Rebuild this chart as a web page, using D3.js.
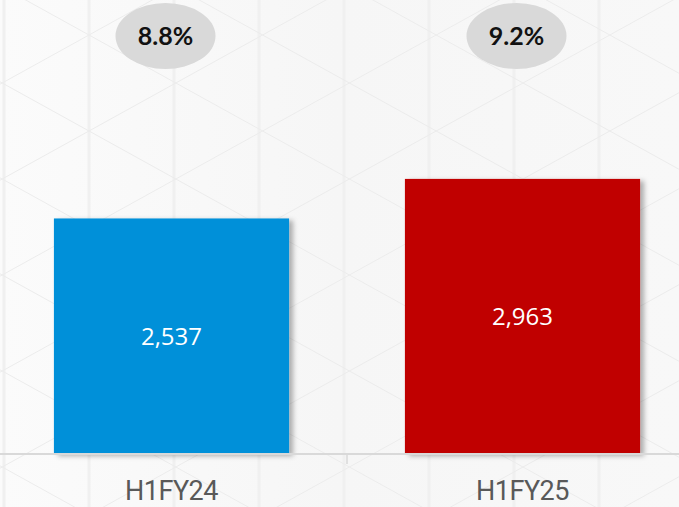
<!DOCTYPE html>
<html>
<head>
<meta charset="utf-8">
<script src="https://cdn.jsdelivr.net/npm/d3@7"></script>
<style>
  body { margin: 0; background: #fff; }
  svg { display: block; }
</style>
</head>
<body>
<div id="chart"></div>
<script>
// data
var categories = ["H1FY24", "H1FY25"];
var values = [2537, 2963];
var growth = ["8.8%", "9.2%"];
var colors = ["#0090d9", "#c00000"];

var tot_width = 679, tot_height = 507;
var baseY = 454;

var svg = d3.select("#chart").append("svg")
    .attr("width", tot_width).attr("height", tot_height);

var defs = svg.append("defs");
var grad = defs.append("linearGradient").attr("id", "bg")
    .attr("x1", "0").attr("y1", "0").attr("x2", "1").attr("y2", "0");
grad.append("stop").attr("offset", "0").attr("stop-color", "#fbfbfb");
grad.append("stop").attr("offset", "0.5").attr("stop-color", "#f6f6f6");
grad.append("stop").attr("offset", "1").attr("stop-color", "#f8f8f8");

var shadow = defs.append("filter").attr("id", "shadow")
    .attr("x", "-10%").attr("y", "-10%").attr("width", "130%").attr("height", "130%");
shadow.append("feDropShadow").attr("dx", 4).attr("dy", 2)
    .attr("stdDeviation", 2.5).attr("flood-color", "#000").attr("flood-opacity", 0.3);

// background with triangle grid
svg.append("rect").attr("width", tot_width).attr("height", tot_height).attr("fill", "url(#bg)");
var bgLines = svg.append("g").attr("stroke", "#ececec").attr("stroke-width", 1).attr("fill", "none");
var dx = 85, dy = 96, slope = 0.553;
for (var k = -1; k < 9; k++) {
  var vx = 4 + dx * k;
  bgLines.append("line").attr("x1", vx).attr("x2", vx).attr("y1", 0).attr("y2", tot_height)
      .attr("stroke", "#f0f0f0").attr("stroke-width", 3);
}
for (var j = -12; j < 12; j++) {
  var y0 = 35 + dy * j - slope * 89;
  bgLines.append("line").attr("x1", 0).attr("y1", y0).attr("x2", tot_width).attr("y2", y0 + slope * tot_width);
  var y1 = 35 + dy * j + slope * 89;
  bgLines.append("line").attr("x1", 0).attr("y1", y1).attr("x2", tot_width).attr("y2", y1 - slope * tot_width);
}

// scales
var x = d3.scaleBand().domain(categories).range([-4, 698])
    .paddingInner(0.33).paddingOuter(0.165);
var y = d3.scaleLinear().domain([0, 4890]).range([baseY, 0]);

// bars
svg.selectAll("rect.bar")
  .data(values)
  .enter().append("rect")
    .attr("class", "bar")
    .attr("x", function(d, i) { return x(categories[i]); })
    .attr("width", x.bandwidth())
    .attr("y", function(d) { return y(d); })
    .attr("height", function(d) { return baseY - y(d); })
    .attr("fill", function(d, i) { return colors[i]; })
    .attr("filter", "url(#shadow)");

// value labels
svg.selectAll("text.val")
  .data(values)
  .enter().append("text")
    .attr("class", "val")
    .attr("x", function(d, i) { return x(categories[i]) + x.bandwidth() / 2; })
    .attr("y", function(d) { return (y(d) + baseY) / 2 + 9; })
    .attr("text-anchor", "middle")
    .attr("fill", "#fff")
    .style("font-family", "'Open Sans', sans-serif")
    .style("font-size", "24px")
    .text(function(d) { return d3.format(",")(d); });

// x axis
var axis = svg.append("g").attr("transform", "translate(0," + baseY + ")")
    .call(d3.axisBottom(x).tickSize(0).tickPadding(27));
axis.select(".domain").remove();
axis.append("line").attr("x1", 0).attr("x2", tot_width).attr("y1", 0).attr("y2", 0)
    .attr("stroke", "#d9d9d9").attr("stroke-width", 2);
axis.append("line")
    .attr("x1", x(categories[1]) - x.step() * x.paddingInner() / 2)
    .attr("x2", x(categories[1]) - x.step() * x.paddingInner() / 2)
    .attr("y1", 0).attr("y2", 10)
    .attr("stroke", "#d9d9d9").attr("stroke-width", 1.5);
axis.selectAll(".tick text")
    .attr("fill", "#595959")
    .style("font-family", "Roboto, sans-serif")
    .style("font-size", "27px")
    .style("letter-spacing", "-0.5px");

// growth bubbles
var bubble = svg.selectAll("g.bubble")
  .data(growth)
  .enter().append("g")
    .attr("class", "bubble")
    .attr("transform", function(d, i) {
      return "translate(" + (x(categories[i]) + x.bandwidth() / 2 - 6) + ",36)";
    });
bubble.append("ellipse").attr("rx", 50).attr("ry", 33).attr("fill", "#d9d9d9");
bubble.append("text")
    .attr("text-anchor", "middle")
    .attr("y", 9)
    .attr("fill", "#111")
    .style("font-family", "Lato, sans-serif")
    .style("font-weight", "bold")
    .style("font-size", "25px")
    .text(function(d) { return d; });
</script>
</body>
</html>
